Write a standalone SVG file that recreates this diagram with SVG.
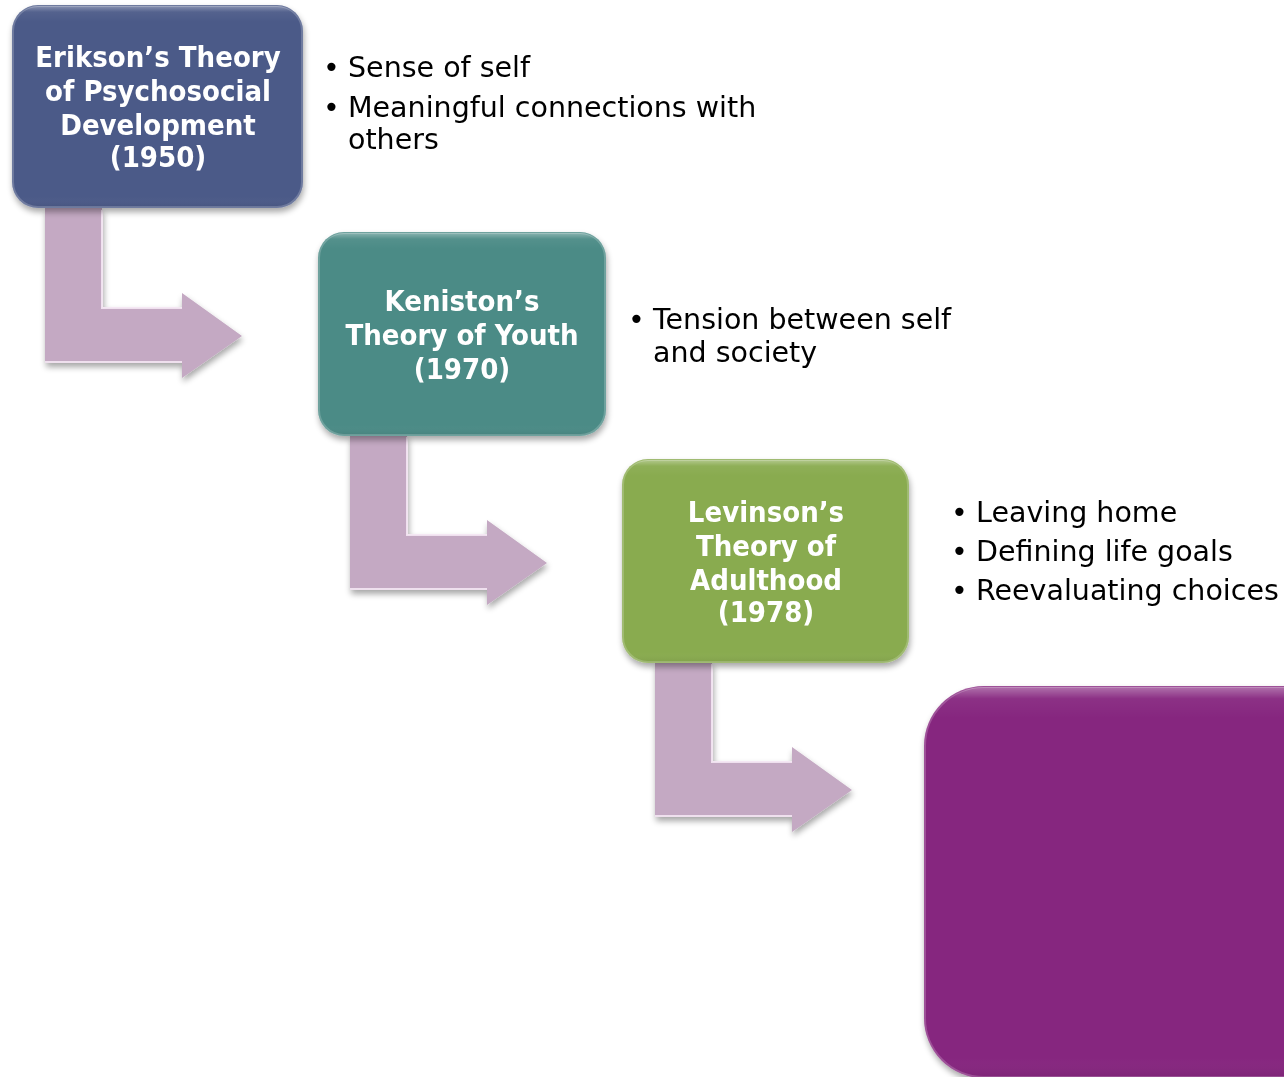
<svg xmlns="http://www.w3.org/2000/svg" width="1284" height="1077" viewBox="0 0 1284 1077">
<defs>
<filter id="sh" x="-10%" y="-10%" width="125%" height="130%">
<feGaussianBlur in="SourceAlpha" stdDeviation="3"/>
<feOffset dx="1" dy="4" result="b"/>
<feComponentTransfer><feFuncA type="linear" slope="0.35"/></feComponentTransfer>
<feMerge><feMergeNode/><feMergeNode in="SourceGraphic"/></feMerge>
</filter>
<linearGradient id="hl" x1="0" y1="0" x2="0" y2="1">
<stop offset="0" stop-color="#fff" stop-opacity="0.35"/>
<stop offset="0.03" stop-color="#fff" stop-opacity="0.05"/>
<stop offset="0.08" stop-color="#fff" stop-opacity="0"/>
<stop offset="0.95" stop-color="#fff" stop-opacity="0"/>
<stop offset="1" stop-color="#000" stop-opacity="0.06"/>
</linearGradient>
<path id="arr" d="M0 0 H57 V100 H137 V85 L197 128 L137 170 V155 H0 Z"/>
</defs>
<style>
.box{stroke:none}
.gl{fill:url(#hl);stroke:#fff;stroke-opacity:0.2;stroke-width:2}
.t{font-family:"DejaVu Sans Condensed","DejaVu Sans",sans-serif;font-weight:bold;font-size:29px;fill:#fff;text-anchor:middle}
.b{font-family:"DejaVu Sans",sans-serif;font-size:28.5px;fill:#000}
.a{fill:#c4a9c3}
.ae{fill:none;stroke:#f4e6f3;stroke-width:2;stroke-opacity:0.9}
</style>
<rect width="1284" height="1077" fill="#fff"/>
<g id="connectors" filter="url(#sh)">
<g transform="translate(45,208)"><use href="#arr" class="a"/><path class="ae" d="M57 2 V100 H137 M0 154 H137"/></g>
<g transform="translate(350,435)"><use href="#arr" class="a"/><path class="ae" d="M57 2 V100 H137 M0 154 H137"/></g>
<g transform="translate(655,662)"><use href="#arr" class="a"/><path class="ae" d="M57 2 V100 H137 M0 154 H137"/></g>
</g>
<g id="erikson">
<rect class="box" x="12" y="5" width="291" height="203" rx="26" fill="#4b5a88" filter="url(#sh)"/>
<rect class="gl" x="13" y="6" width="289" height="201" rx="25"/>
<text class="t" x="158" y="67">Erikson’s Theory</text>
<text class="t" x="158" y="101">of Psychosocial</text>
<text class="t" x="158" y="135">Development</text>
<text class="t" x="158" y="167">(1950)</text>
</g>
<g id="erikson-notes">
<text class="b" x="323" y="77">•</text><text class="b" x="348" y="77">Sense of self</text>
<text class="b" x="323" y="117">•</text><text class="b" x="348" y="117">Meaningful connections with</text>
<text class="b" x="348" y="149">others</text>
</g>
<g id="keniston">
<rect class="box" x="318" y="232" width="288" height="204" rx="26" fill="#4b8b86" filter="url(#sh)"/>
<rect class="gl" x="319" y="233" width="286" height="202" rx="25"/>
<text class="t" x="462" y="311">Keniston’s</text>
<text class="t" x="462" y="345">Theory of Youth</text>
<text class="t" x="462" y="379">(1970)</text>
</g>
<g id="keniston-notes">
<text class="b" x="628" y="329">•</text><text class="b" x="653" y="329">Tension between self</text>
<text class="b" x="653" y="362">and society</text>
</g>
<g id="levinson">
<rect class="box" x="622" y="459" width="287" height="204" rx="26" fill="#89ab4f" filter="url(#sh)"/>
<rect class="gl" x="623" y="460" width="285" height="202" rx="25"/>
<text class="t" x="766" y="522">Levinson’s</text>
<text class="t" x="766" y="556">Theory of</text>
<text class="t" x="766" y="590">Adulthood</text>
<text class="t" x="766" y="622">(1978)</text>
</g>
<g id="levinson-notes">
<text class="b" x="951" y="522">•</text><text class="b" x="976" y="522">Leaving home</text>
<text class="b" x="951" y="561">•</text><text class="b" x="976" y="561">Defining life goals</text>
<text class="b" x="951" y="600">•</text><text class="b" x="976" y="600">Reevaluating choices</text>
</g>
<g id="arnett">
<rect class="box" x="924" y="686" width="420" height="392" rx="60" fill="#86257f" filter="url(#sh)"/>
<rect class="gl" x="925" y="687" width="418" height="390" rx="59"/>
</g>
</svg>
